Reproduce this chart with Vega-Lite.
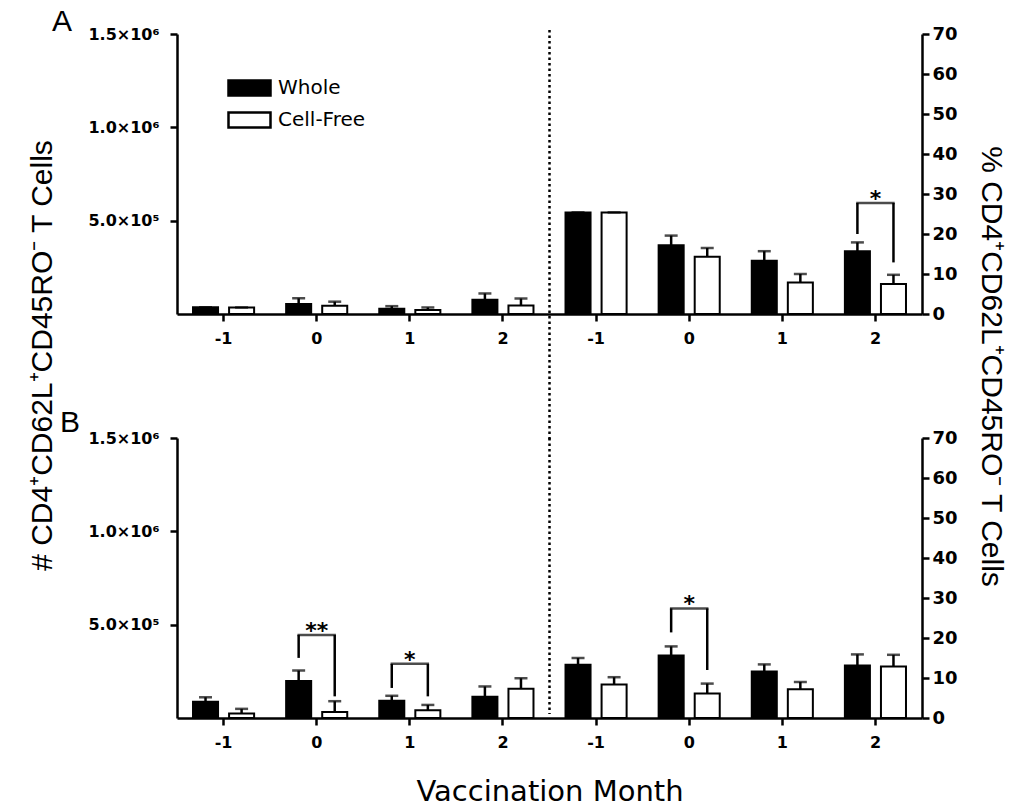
{
  "$schema": "https://vega.github.io/schema/vega-lite/v6.json",
  "background": "white",
  "padding": {"left": 27, "top": 7, "right": 5, "bottom": 5},
  "bounds": "flush",
  "spacing": 124,
  "config": {
    "font": "Liberation Sans",
    "view": {"stroke": null},
    "axis": {
      "grid": false,
      "domainColor": "black",
      "domainWidth": 2.5,
      "tickColor": "black",
      "tickWidth": 2.5,
      "tickSize": 7,
      "labelFont": "DejaVu Sans",
      "labelFontWeight": "bold",
      "labelColor": "black",
      "labelOverlap": false,
      "titleColor": "black",
      "titleFontWeight": "normal"
    }
  },
  "datasets": {
    "bars": [
      {"panel": "A", "unit": "count", "slot": 1, "group": "Whole", "mean": 36000, "hi": 36000},
      {"panel": "A", "unit": "count", "slot": 1, "group": "Cell-Free", "mean": 35000, "hi": 35000},
      {"panel": "A", "unit": "count", "slot": 2, "group": "Whole", "mean": 53600, "hi": 84000},
      {"panel": "A", "unit": "count", "slot": 2, "group": "Cell-Free", "mean": 44600, "hi": 66000},
      {"panel": "A", "unit": "count", "slot": 3, "group": "Whole", "mean": 28000, "hi": 42000},
      {"panel": "A", "unit": "count", "slot": 3, "group": "Cell-Free", "mean": 21000, "hi": 35000},
      {"panel": "A", "unit": "count", "slot": 4, "group": "Whole", "mean": 77000, "hi": 110000},
      {"panel": "A", "unit": "count", "slot": 4, "group": "Cell-Free", "mean": 45000, "hi": 83000},
      {"panel": "A", "unit": "pct", "slot": 5, "group": "Whole", "mean": 25.4, "hi": 25.4},
      {"panel": "A", "unit": "pct", "slot": 5, "group": "Cell-Free", "mean": 25.4, "hi": 25.4},
      {"panel": "A", "unit": "pct", "slot": 6, "group": "Whole", "mean": 17.2, "hi": 19.6},
      {"panel": "A", "unit": "pct", "slot": 6, "group": "Cell-Free", "mean": 14.3, "hi": 16.5},
      {"panel": "A", "unit": "pct", "slot": 7, "group": "Whole", "mean": 13.3, "hi": 15.7},
      {"panel": "A", "unit": "pct", "slot": 7, "group": "Cell-Free", "mean": 7.9, "hi": 10.0},
      {"panel": "A", "unit": "pct", "slot": 8, "group": "Whole", "mean": 15.7, "hi": 17.9},
      {"panel": "A", "unit": "pct", "slot": 8, "group": "Cell-Free", "mean": 7.5, "hi": 9.8},
      {"panel": "B", "unit": "count", "slot": 1, "group": "Whole", "mean": 87000, "hi": 111000},
      {"panel": "B", "unit": "count", "slot": 1, "group": "Cell-Free", "mean": 24000, "hi": 49000},
      {"panel": "B", "unit": "count", "slot": 2, "group": "Whole", "mean": 198000, "hi": 254000},
      {"panel": "B", "unit": "count", "slot": 2, "group": "Cell-Free", "mean": 32000, "hi": 90000},
      {"panel": "B", "unit": "count", "slot": 3, "group": "Whole", "mean": 93000, "hi": 119000},
      {"panel": "B", "unit": "count", "slot": 3, "group": "Cell-Free", "mean": 41000, "hi": 70000},
      {"panel": "B", "unit": "count", "slot": 4, "group": "Whole", "mean": 114000, "hi": 169000},
      {"panel": "B", "unit": "count", "slot": 4, "group": "Cell-Free", "mean": 157000, "hi": 213000},
      {"panel": "B", "unit": "pct", "slot": 5, "group": "Whole", "mean": 13.3, "hi": 15.0},
      {"panel": "B", "unit": "pct", "slot": 5, "group": "Cell-Free", "mean": 8.4, "hi": 10.2},
      {"panel": "B", "unit": "pct", "slot": 6, "group": "Whole", "mean": 15.6, "hi": 17.9},
      {"panel": "B", "unit": "pct", "slot": 6, "group": "Cell-Free", "mean": 6.1, "hi": 8.6},
      {"panel": "B", "unit": "pct", "slot": 7, "group": "Whole", "mean": 11.6, "hi": 13.4},
      {"panel": "B", "unit": "pct", "slot": 7, "group": "Cell-Free", "mean": 7.2, "hi": 9.0},
      {"panel": "B", "unit": "pct", "slot": 8, "group": "Whole", "mean": 13.1, "hi": 15.9},
      {"panel": "B", "unit": "pct", "slot": 8, "group": "Cell-Free", "mean": 12.9, "hi": 15.8}
    ],
    "brackets": [
      {"panel": "A", "unit": "pct", "slot": 8, "top": 27.75, "Whole": 20.0, "Cell-Free": 12.9, "stars": "*"},
      {"panel": "B", "unit": "count", "slot": 2, "top": 445000, "Whole": 322000, "Cell-Free": 116000, "stars": "**"},
      {"panel": "B", "unit": "count", "slot": 3, "top": 290000, "Whole": 161000, "Cell-Free": 116000, "stars": "*"},
      {"panel": "B", "unit": "pct", "slot": 6, "top": 27.4, "Whole": 21.4, "Cell-Free": 12.0, "stars": "*"}
    ]
  },
  "vconcat": [
    {
      "title": {"text": "A", "anchor": "start", "frame": "group", "dx": -125, "offset": -12, "fontSize": 30, "font": "Liberation Sans", "fontWeight": "normal", "color": "black"},
      "width": 745,
      "height": 280,
      "resolve": {"scale": {"y": "independent"}},
      "layer": [
        {
          "layer": [
            {
              "data": {"name": "bars"},
              "transform": [{"filter": "datum.panel == 'A' && datum.unit == 'count'"}],
              "mark": {"type": "bar", "stroke": "black", "strokeWidth": 2},
              "encoding": {
                "x": {"field": "slot", "type": "ordinal", "scale": {"domain": [1, 2, 3, 4, 5, 6, 7, 8], "paddingInner": 0, "paddingOuter": 0},
                      "axis": {"title": null, "labelAngle": 0, "labelFontSize": 16, "labelPadding": 9, "labelExpr": "['-1','0','1','2','-1','0','1','2'][datum.value - 1]"}},
                "xOffset": {"field": "group", "type": "nominal", "scale": {"domain": ["Whole", "Cell-Free"], "paddingInner": 0.306, "paddingOuter": 0.444}},
                "y": {"field": "mean", "type": "quantitative", "scale": {"domain": [0, 1500000], "nice": false},
                      "axis": {"orient": "left", "values": [500000, 1000000, 1500000],
                               "labelExpr": "datum.value == 500000 ? '5.0×10⁵' : datum.value == 1000000 ? '1.0×10⁶' : '1.5×10⁶'",
                               "labelFontSize": 16, "labelPadding": 11,
                               "title": "# CD4⁺CD62L⁺CD45RO⁻ T Cells", "titleFont": "Liberation Sans", "titleFontSize": 30,
                               "titleAngle": -90, "titleX": -135, "titleY": 321, "titleAlign": "center", "titleBaseline": "middle"}},
                "fill": {"field": "group", "type": "nominal", "scale": {"domain": ["Whole", "Cell-Free"], "range": ["black", "white"]},
                         "legend": {"title": null, "orient": "none", "legendX": 50, "legendY": 38, "padding": 0, "clipHeight": 32, "rowPadding": 0,
                                    "symbolType": "M-1,-0.36H1V0.36H-1Z", "symbolSize": 1764, "symbolStrokeColor": "black", "symbolStrokeWidth": 2.5,
                                    "labelFont": "DejaVu Sans", "labelFontSize": 20, "labelColor": "black", "labelOffset": 6}}
              }
            },
            {
              "data": {"name": "bars"},
              "transform": [{"filter": "datum.panel == 'A' && datum.unit == 'count'"}],
              "mark": {"type": "rule", "color": "black", "strokeWidth": 2.5},
              "encoding": {
                "x": {"field": "slot", "type": "ordinal"},
                "xOffset": {"field": "group", "type": "nominal"},
                "y": {"field": "mean", "type": "quantitative"},
                "y2": {"field": "hi"}
              }
            },
            {
              "data": {"name": "bars"},
              "transform": [{"filter": "datum.panel == 'A' && datum.unit == 'count'"}],
              "mark": {"type": "tick", "color": "black", "thickness": 2.5, "size": 13},
              "encoding": {
                "x": {"field": "slot", "type": "ordinal"},
                "xOffset": {"field": "group", "type": "nominal"},
                "y": {"field": "hi", "type": "quantitative"}
              }
            }
          ]
        },
        {
          "layer": [
            {
              "data": {"name": "bars"},
              "transform": [{"filter": "datum.panel == 'A' && datum.unit == 'pct'"}],
              "mark": {"type": "bar", "stroke": "black", "strokeWidth": 2},
              "encoding": {
                "x": {"field": "slot", "type": "ordinal"},
                "xOffset": {"field": "group", "type": "nominal"},
                "y": {"field": "mean", "type": "quantitative", "scale": {"domain": [0, 70], "nice": false},
                      "axis": {"orient": "right", "values": [0, 10, 20, 30, 40, 50, 60, 70], "tickCount": 8, "labelFontSize": 18, "labelPadding": 3,
                               "title": "% CD4⁺CD62L⁺CD45RO⁻ T Cells", "titleFont": "Liberation Sans", "titleFontSize": 30,
                               "titleAngle": 90, "titleX": 68, "titleY": 332, "titleAlign": "center", "titleBaseline": "middle"}},
                "fill": {"field": "group", "type": "nominal"}
              }
            },
            {
              "data": {"name": "bars"},
              "transform": [{"filter": "datum.panel == 'A' && datum.unit == 'pct'"}],
              "mark": {"type": "rule", "color": "black", "strokeWidth": 2.5},
              "encoding": {
                "x": {"field": "slot", "type": "ordinal"},
                "xOffset": {"field": "group", "type": "nominal"},
                "y": {"field": "mean", "type": "quantitative"},
                "y2": {"field": "hi"}
              }
            },
            {
              "data": {"name": "bars"},
              "transform": [{"filter": "datum.panel == 'A' && datum.unit == 'pct'"}],
              "mark": {"type": "tick", "color": "black", "thickness": 2.5, "size": 13},
              "encoding": {
                "x": {"field": "slot", "type": "ordinal"},
                "xOffset": {"field": "group", "type": "nominal"},
                "y": {"field": "hi", "type": "quantitative"}
              }
            },
            {
              "data": {"name": "brackets"},
              "transform": [{"filter": "datum.panel == 'A' && datum.unit == 'pct'"}, {"fold": ["Whole", "Cell-Free"], "as": ["group", "end"]}],
              "mark": {"type": "rule", "color": "black", "strokeWidth": 2.5},
              "encoding": {
                "x": {"field": "slot", "type": "ordinal"},
                "xOffset": {"field": "group", "type": "nominal"},
                "y": {"field": "top", "type": "quantitative"},
                "y2": {"field": "end"}
              }
            },
            {
              "data": {"name": "brackets"},
              "transform": [{"filter": "datum.panel == 'A' && datum.unit == 'pct'"}],
              "mark": {"type": "tick", "color": "black", "thickness": 2.5, "size": 38.5},
              "encoding": {
                "x": {"field": "slot", "type": "ordinal"},
                "y": {"field": "top", "type": "quantitative"}
              }
            },
            {
              "data": {"name": "brackets"},
              "transform": [{"filter": "datum.panel == 'A' && datum.unit == 'pct'"}],
              "mark": {"type": "text", "font": "DejaVu Sans", "fontWeight": "bold", "fontSize": 22, "baseline": "alphabetic", "dy": 3, "color": "black"},
              "encoding": {
                "x": {"field": "slot", "type": "ordinal"},
                "y": {"field": "top", "type": "quantitative"},
                "text": {"field": "stars"}
              }
            },
            {
              "data": {"values": [{}]},
              "mark": {"type": "rule", "color": "black", "strokeWidth": 2.5, "strokeDash": [2.5, 3]},
              "encoding": {
                "x": {"datum": 5, "type": "ordinal", "bandPosition": 0},
                "y": {"datum": 71, "type": "quantitative"},
                "y2": {"datum": -31.5}
              }
            }
          ]
        }
      ]
    },
    {
      "title": {"text": "B", "anchor": "start", "frame": "group", "dx": -117, "offset": -9, "fontSize": 30, "font": "Liberation Sans", "fontWeight": "normal", "color": "black"},
      "width": 745,
      "height": 280,
      "resolve": {"scale": {"y": "independent"}},
      "layer": [
        {
          "layer": [
            {
              "data": {"name": "bars"},
              "transform": [{"filter": "datum.panel == 'B' && datum.unit == 'count'"}],
              "mark": {"type": "bar", "stroke": "black", "strokeWidth": 2},
              "encoding": {
                "x": {"field": "slot", "type": "ordinal", "scale": {"domain": [1, 2, 3, 4, 5, 6, 7, 8], "paddingInner": 0, "paddingOuter": 0},
                      "axis": {"title": "Vaccination Month", "titleFont": "DejaVu Sans", "titleFontSize": 29, "titleY": 73, "titleBaseline": "middle",
                               "labelAngle": 0, "labelFontSize": 16, "labelPadding": 9, "labelExpr": "['-1','0','1','2','-1','0','1','2'][datum.value - 1]"}},
                "xOffset": {"field": "group", "type": "nominal", "scale": {"domain": ["Whole", "Cell-Free"], "paddingInner": 0.306, "paddingOuter": 0.444}},
                "y": {"field": "mean", "type": "quantitative", "scale": {"domain": [0, 1500000], "nice": false},
                      "axis": {"orient": "left", "values": [500000, 1000000, 1500000],
                               "labelExpr": "datum.value == 500000 ? '5.0×10⁵' : datum.value == 1000000 ? '1.0×10⁶' : '1.5×10⁶'",
                               "labelFontSize": 16, "labelPadding": 11, "title": null}},
                "fill": {"field": "group", "type": "nominal"}
              }
            },
            {
              "data": {"name": "bars"},
              "transform": [{"filter": "datum.panel == 'B' && datum.unit == 'count'"}],
              "mark": {"type": "rule", "color": "black", "strokeWidth": 2.5},
              "encoding": {
                "x": {"field": "slot", "type": "ordinal"},
                "xOffset": {"field": "group", "type": "nominal"},
                "y": {"field": "mean", "type": "quantitative"},
                "y2": {"field": "hi"}
              }
            },
            {
              "data": {"name": "bars"},
              "transform": [{"filter": "datum.panel == 'B' && datum.unit == 'count'"}],
              "mark": {"type": "tick", "color": "black", "thickness": 2.5, "size": 13},
              "encoding": {
                "x": {"field": "slot", "type": "ordinal"},
                "xOffset": {"field": "group", "type": "nominal"},
                "y": {"field": "hi", "type": "quantitative"}
              }
            },
            {
              "data": {"name": "brackets"},
              "transform": [{"filter": "datum.panel == 'B' && datum.unit == 'count'"}, {"fold": ["Whole", "Cell-Free"], "as": ["group", "end"]}],
              "mark": {"type": "rule", "color": "black", "strokeWidth": 2.5},
              "encoding": {
                "x": {"field": "slot", "type": "ordinal"},
                "xOffset": {"field": "group", "type": "nominal"},
                "y": {"field": "top", "type": "quantitative"},
                "y2": {"field": "end"}
              }
            },
            {
              "data": {"name": "brackets"},
              "transform": [{"filter": "datum.panel == 'B' && datum.unit == 'count'"}],
              "mark": {"type": "tick", "color": "black", "thickness": 2.5, "size": 38.5},
              "encoding": {
                "x": {"field": "slot", "type": "ordinal"},
                "y": {"field": "top", "type": "quantitative"}
              }
            },
            {
              "data": {"name": "brackets"},
              "transform": [{"filter": "datum.panel == 'B' && datum.unit == 'count'"}],
              "mark": {"type": "text", "font": "DejaVu Sans", "fontWeight": "bold", "fontSize": 22, "baseline": "alphabetic", "dy": 3, "color": "black"},
              "encoding": {
                "x": {"field": "slot", "type": "ordinal"},
                "y": {"field": "top", "type": "quantitative"},
                "text": {"field": "stars"}
              }
            }
          ]
        },
        {
          "layer": [
            {
              "data": {"name": "bars"},
              "transform": [{"filter": "datum.panel == 'B' && datum.unit == 'pct'"}],
              "mark": {"type": "bar", "stroke": "black", "strokeWidth": 2},
              "encoding": {
                "x": {"field": "slot", "type": "ordinal"},
                "xOffset": {"field": "group", "type": "nominal"},
                "y": {"field": "mean", "type": "quantitative", "scale": {"domain": [0, 70], "nice": false},
                      "axis": {"orient": "right", "values": [0, 10, 20, 30, 40, 50, 60, 70], "tickCount": 8, "labelFontSize": 18, "labelPadding": 3, "title": null}},
                "fill": {"field": "group", "type": "nominal"}
              }
            },
            {
              "data": {"name": "bars"},
              "transform": [{"filter": "datum.panel == 'B' && datum.unit == 'pct'"}],
              "mark": {"type": "rule", "color": "black", "strokeWidth": 2.5},
              "encoding": {
                "x": {"field": "slot", "type": "ordinal"},
                "xOffset": {"field": "group", "type": "nominal"},
                "y": {"field": "mean", "type": "quantitative"},
                "y2": {"field": "hi"}
              }
            },
            {
              "data": {"name": "bars"},
              "transform": [{"filter": "datum.panel == 'B' && datum.unit == 'pct'"}],
              "mark": {"type": "tick", "color": "black", "thickness": 2.5, "size": 13},
              "encoding": {
                "x": {"field": "slot", "type": "ordinal"},
                "xOffset": {"field": "group", "type": "nominal"},
                "y": {"field": "hi", "type": "quantitative"}
              }
            },
            {
              "data": {"name": "brackets"},
              "transform": [{"filter": "datum.panel == 'B' && datum.unit == 'pct'"}, {"fold": ["Whole", "Cell-Free"], "as": ["group", "end"]}],
              "mark": {"type": "rule", "color": "black", "strokeWidth": 2.5},
              "encoding": {
                "x": {"field": "slot", "type": "ordinal"},
                "xOffset": {"field": "group", "type": "nominal"},
                "y": {"field": "top", "type": "quantitative"},
                "y2": {"field": "end"}
              }
            },
            {
              "data": {"name": "brackets"},
              "transform": [{"filter": "datum.panel == 'B' && datum.unit == 'pct'"}],
              "mark": {"type": "tick", "color": "black", "thickness": 2.5, "size": 38.5},
              "encoding": {
                "x": {"field": "slot", "type": "ordinal"},
                "y": {"field": "top", "type": "quantitative"}
              }
            },
            {
              "data": {"name": "brackets"},
              "transform": [{"filter": "datum.panel == 'B' && datum.unit == 'pct'"}],
              "mark": {"type": "text", "font": "DejaVu Sans", "fontWeight": "bold", "fontSize": 22, "baseline": "alphabetic", "dy": 3, "color": "black"},
              "encoding": {
                "x": {"field": "slot", "type": "ordinal"},
                "y": {"field": "top", "type": "quantitative"},
                "text": {"field": "stars"}
              }
            },
            {
              "data": {"values": [{}]},
              "mark": {"type": "rule", "color": "black", "strokeWidth": 2.5, "strokeDash": [2.5, 3]},
              "encoding": {
                "x": {"datum": 5, "type": "ordinal", "bandPosition": 0},
                "y": {"datum": 70, "type": "quantitative"},
                "y2": {"datum": 1}
              }
            }
          ]
        }
      ]
    }
  ]
}
